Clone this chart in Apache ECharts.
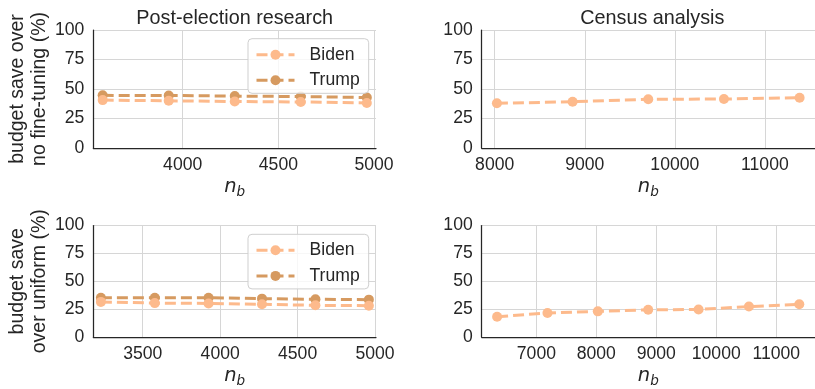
<!DOCTYPE html>
<html><head><meta charset="utf-8">
<script src="https://cdn.jsdelivr.net/npm/echarts@6/dist/echarts.min.js"></script>
<style>html,body{margin:0;padding:0;background:#fff}#c{width:815px;height:389px}</style>
</head><body><div id="c"></div>
<script>
// ---- data ----
const panelTitles = ['Post-election research', 'Census analysis'];
const yLabelTop = 'budget save over\nno fine-tuning (%)';
const yLabelBottom = 'budget save\nover uniform (%)';
const seriesNames = ['Biden', 'Trump'];

const nbElectionTop = [3582, 3927, 4272, 4617, 4962];
const electionTopBiden = [40.6, 40.0, 39.4, 39.0, 38.2];
const electionTopTrump = [44.6, 44.5, 44.0, 43.6, 42.8];

const nbCensusTop = [8025, 8865, 9705, 10545, 11385];
const censusTopValues = [37.9, 39.2, 41.3, 41.5, 42.6];

const nbElectionBottom = [3230, 3578, 3925, 4270, 4615, 4960];
const electionBottomBiden = [31.5, 30.4, 30.1, 29.3, 28.4, 28.1];
const electionBottomTrump = [35.2, 35.2, 35.2, 34.4, 33.8, 33.5];

const nbCensusBottom = [6345, 7185, 8025, 8865, 9705, 10545, 11385];
const censusBottomValues = [18.2, 21.6, 23.0, 24.4, 24.7, 27.3, 29.3];

const yTicks = [0, 25, 50, 75, 100];
const xTicksElectionTop = [4000, 4500, 5000];
const xTicksElectionBottom = [3500, 4000, 4500, 5000];
const xTicksCensusTop = [8000, 9000, 10000, 11000];
const xTicksCensusBottom = [7000, 8000, 9000, 10000, 11000];

// ---- styling ----
const FONT = "'Liberation Sans', Arial, sans-serif";
const INK = '#262626';
const GRIDC = '#d6d6d6';
const colBiden = '#fdba8c';
const colTrump = '#d69a60';

const grids = [
  {left: 93.3, top: 30, width: 282.7, height: 118},
  {left: 481.7, top: 30, width: 341.3, height: 118},
  {left: 93.3, top: 225.5, width: 282.7, height: 117.5},
  {left: 481.7, top: 225.5, width: 341.3, height: 117.5}
];
const xRanges = [[3533, 5010], [7856, 11556], [3181, 5006], [6088, 11647]];
const xTickSets = [xTicksElectionTop, xTicksCensusTop, xTicksElectionBottom, xTicksCensusBottom];

function pairs(xs, ys) { return xs.map((x, i) => [x, ys[i]]); }
const plain = v => String(v);

const xAxes = grids.map((g, i) => ({
  gridIndex: i, type: 'value', min: xRanges[i][0], max: xRanges[i][1],
  axisLine: {show: true, onZero: false, lineStyle: {color: INK, width: 1.25}},
  axisTick: {show: false, customValues: xTickSets[i]},
  axisLabel: {customValues: xTickSets[i], formatter: plain, fontSize: 17.6, color: INK, fontFamily: FONT, margin: 8},
  splitLine: {show: true, lineStyle: {color: GRIDC, width: 1}},
  name: '{n|n}{b|b}', nameLocation: 'middle', nameGap: 27,
  nameTextStyle: {rich: {
    n: {fontSize: 19.5, fontStyle: 'italic', fontFamily: "'DejaVu Sans'", color: INK, lineHeight: 22},
    b: {fontSize: 13.6, fontStyle: 'italic', fontFamily: "'DejaVu Sans'", color: INK, padding: [10, 0, 0, 0]}
  }}
}));

const yAxes = grids.map((g, i) => ({
  gridIndex: i, type: 'value', min: 0, max: 100, interval: 25,
  axisLine: {show: true, lineStyle: {color: INK, width: 1.25}},
  axisTick: {show: false, customValues: yTicks},
  axisLabel: {customValues: yTicks, formatter: plain, fontSize: 17.6, color: INK, fontFamily: FONT, margin: 9},
  splitLine: {show: true, lineStyle: {color: GRIDC, width: 1}},
  name: i === 0 ? yLabelTop : (i === 2 ? yLabelBottom : ''),
  nameLocation: 'middle', nameRotate: 90, nameGap: 41,
  nameTextStyle: {fontSize: 19.5, lineHeight: 22, color: INK, fontFamily: FONT}
}));

function lineSeries(name, color, idx, data, z) {
  return {
    name: name, type: 'line', xAxisIndex: idx, yAxisIndex: idx, data: data,
    symbol: 'circle', symbolSize: 10, showSymbol: true, clip: false, z: z,
    lineStyle: {color: color, width: 3, type: [11, 5]},
    itemStyle: {color: color},
    emphasis: {disabled: true}
  };
}

const series = [
  lineSeries(seriesNames[1], colTrump, 0, pairs(nbElectionTop, electionTopTrump), 2),
  lineSeries(seriesNames[0], colBiden, 0, pairs(nbElectionTop, electionTopBiden), 3),
  lineSeries(seriesNames[0], colBiden, 1, pairs(nbCensusTop, censusTopValues), 3),
  lineSeries(seriesNames[1], colTrump, 2, pairs(nbElectionBottom, electionBottomTrump), 2),
  lineSeries(seriesNames[0], colBiden, 2, pairs(nbElectionBottom, electionBottomBiden), 3),
  lineSeries(seriesNames[0], colBiden, 3, pairs(nbCensusBottom, censusBottomValues), 3)
];

function legendAt(top) {
  return {
    show: true, orient: 'vertical', left: 248, top: top, data: seriesNames,
    selectedMode: false, itemWidth: 38, itemHeight: 12.5, itemGap: 7.6,
    padding: [7, 9, 4, 7],
    backgroundColor: 'rgba(255,255,255,0.8)', borderColor: '#cfcfcf', borderWidth: 1, borderRadius: 4,
    textStyle: {fontSize: 17.6, color: INK, fontFamily: FONT, padding: [0, 0, 0, 10]},
    lineStyle: {width: 3}
  };
}

const option = {
  animation: false,
  backgroundColor: '#ffffff',
  title: [
    {text: panelTitles[0], left: 234.7, top: 9, padding: 0, textAlign: 'center',
     textStyle: {fontSize: 19.8, fontWeight: 'normal', color: INK, fontFamily: FONT}},
    {text: panelTitles[1], left: 652.3, top: 9, padding: 0, textAlign: 'center',
     textStyle: {fontSize: 19.8, fontWeight: 'normal', color: INK, fontFamily: FONT}}
  ],
  legend: [legendAt(38.7), legendAt(234.3)],
  grid: grids,
  xAxis: xAxes,
  yAxis: yAxes,
  series: series
};

const chart = echarts.init(document.getElementById('c'), null, {renderer: 'canvas'});
chart.setOption(option);
</script>
</body></html>
